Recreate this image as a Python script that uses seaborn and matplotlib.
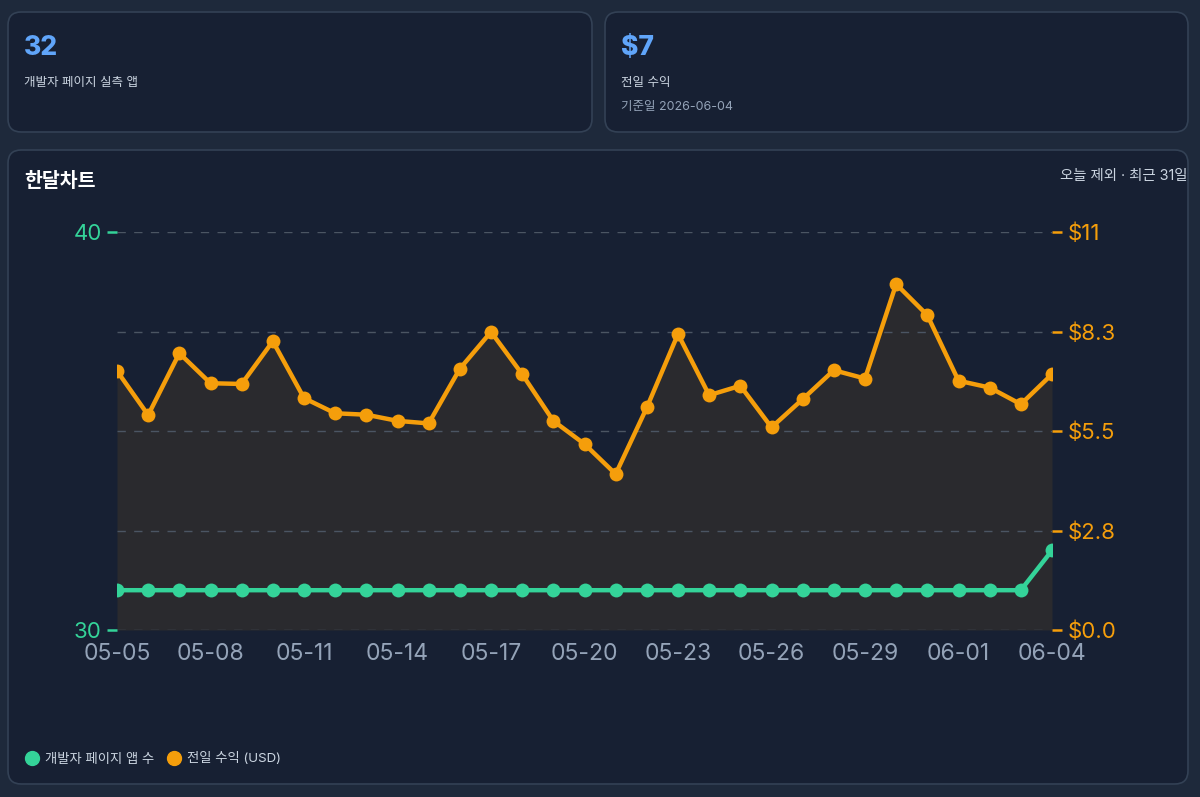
import numpy as np
import pandas as pd
import matplotlib
matplotlib.use("Agg")
import matplotlib.pyplot as plt
import seaborn as sns
from matplotlib.patches import FancyBboxPatch
from matplotlib.lines import Line2D

# data
dates = ["05-05", "05-06", "05-07", "05-08", "05-09", "05-10", "05-11", "05-12",
         "05-13", "05-14", "05-15", "05-16", "05-17", "05-18", "05-19", "05-20",
         "05-21", "05-22", "05-23", "05-24", "05-25", "05-26", "05-27", "05-28",
         "05-29", "05-30", "05-31", "06-01", "06-02", "06-03", "06-04"]
app_count = [31] * 30 + [32]
revenue = [7.16, 5.94, 7.65, 6.82, 6.80, 7.98, 6.41, 5.99, 5.95, 5.78, 5.71,
           7.22, 8.24, 7.07, 5.78, 5.14, 4.31, 6.15, 8.18, 6.49, 6.75, 5.60,
           6.38, 7.18, 6.95, 9.56, 8.70, 6.89, 6.70, 6.24, 7.07]
left_ticks = [30, 40]
right_ticks = [0, 2.75, 5.5, 8.25, 11]
right_labels = ["$0.0", "$2.8", "$5.5", "$8.3", "$11"]

df = pd.DataFrame({"idx": np.arange(len(dates)), "date": dates,
                   "apps": app_count, "rev": revenue})

BG = "#1e293b"
CARD = "#172033"
EDGE = "#334155"
GREEN = "#34d399"
ORANGE = "#f59e0b"
MUTED = "#94a3b8"
LIGHT = "#cbd5e1"

sns.set_theme(style="dark")
fam = ["Inter", "Noto Sans CJK KR", "DejaVu Sans"]
plt.rcParams["font.family"] = fam

W, H = 1200, 797
fig = plt.figure(figsize=(W / 100, H / 100), dpi=100)
fig.patch.set_facecolor(BG)


def px_box(x0, y0, x1, y1):
    return x0 / W, 1 - y1 / H, (x1 - x0) / W, (y1 - y0) / H


def card(x0, y0, x1, y1):
    l, b, w, h = px_box(x0, y0, x1, y1)
    fig.patches.append(FancyBboxPatch((l, b), w, h, transform=fig.transFigure,
                                      boxstyle="round,pad=0,rounding_size=0.011",
                                      mutation_aspect=W / H, zorder=-5,
                                      facecolor=CARD, edgecolor=EDGE, lw=1.2))


card(8, 12, 592, 132)
card(605, 12, 1188, 132)
card(8, 150, 1188, 784)

fig.text(24 / W, 1 - 48 / H, "32", color="#60a5fa", fontsize=19, fontweight="heavy", va="center")
fig.text(24 / W, 1 - 83 / H, "개발자 페이지 실측 앱", color=LIGHT, fontsize=9, va="center")
fig.text(621 / W, 1 - 48 / H, "$7", color="#60a5fa", fontsize=19, fontweight="heavy", va="center")
fig.text(621 / W, 1 - 83 / H, "전일 수익", color=LIGHT, fontsize=9, va="center")
fig.text(621 / W, 1 - 107 / H, "기준일 2026-06-04", color=MUTED, fontsize=9, va="center")
fig.text(24 / W, 1 - 181 / H, "한달차트", color="white", fontsize=14, fontweight="bold", va="center")
fig.text(1187 / W, 1 - 176 / H, "오늘 제외 · 최근 31일", color=LIGHT, fontsize=10.4, va="center", ha="right")

# revenue axis (right) as the base axes, count axis (left) twinned on top
ax_rev = fig.add_axes(px_box(117, 232, 1052, 630))
ax_cnt = ax_rev.twinx()

ax_rev.set_facecolor("none")
ax_rev.fill_between(df["idx"], 0, df["rev"], color="#2a2a2e", zorder=0.5, lw=0)
sns.lineplot(data=df, x="idx", y="rev", ax=ax_rev, color=ORANGE, lw=3.2,
             marker="o", markersize=10, markeredgewidth=0, zorder=3)
ax_rev.set_ylim(0, 11)
ax_rev.set_xlim(0, len(dates) - 1)
ax_rev.yaxis.tick_right()
ax_rev.set_yticks(right_ticks)
ax_rev.set_yticklabels(right_labels)
ax_rev.tick_params(axis="y", colors=ORANGE, labelsize=16, length=7, width=1.8, pad=4)
ax_rev.set_xticks(df["idx"][::3])
ax_rev.set_xticklabels(df["date"][::3])
ax_rev.tick_params(axis="x", colors=MUTED, labelsize=16.5, length=0, pad=9.5)
ax_rev.set_axisbelow("line")
ax_rev.grid(axis="y", color="#4b5563", lw=1, ls=(0, (6, 6)))
ax_rev.grid(axis="x", visible=False)
ax_rev.set_xlabel("")
ax_rev.set_ylabel("")
for s in ax_rev.spines.values():
    s.set_visible(False)

sns.lineplot(data=df, x="idx", y="apps", ax=ax_cnt, color=GREEN, lw=3.2,
             marker="o", markersize=10, markeredgewidth=0)
ax_cnt.set_ylim(30, 40)
ax_cnt.yaxis.tick_left()
ax_cnt.set_yticks(left_ticks)
ax_cnt.tick_params(axis="y", colors=GREEN, labelsize=16, length=7, width=1.8, pad=4)
ax_cnt.grid(False)
ax_cnt.set_ylabel("")
ax_cnt.patch.set_visible(False)
for s in ax_cnt.spines.values():
    s.set_visible(False)

handles = [Line2D([], [], marker="o", ls="none", color=GREEN, markersize=10, label="개발자 페이지 앱 수"),
           Line2D([], [], marker="o", ls="none", color=ORANGE, markersize=10, label="전일 수익 (USD)")]
leg = fig.legend(handles=handles, loc="center left", bbox_to_anchor=(12 / W, 1 - 759 / H),
                 ncol=2, frameon=False, handletextpad=0.35, columnspacing=0.9,
                 handlelength=1.2, prop={"family": fam, "size": 9.6})
for t in leg.get_texts():
    t.set_color(LIGHT)

fig.savefig("out.png", dpi=100, facecolor=BG)
